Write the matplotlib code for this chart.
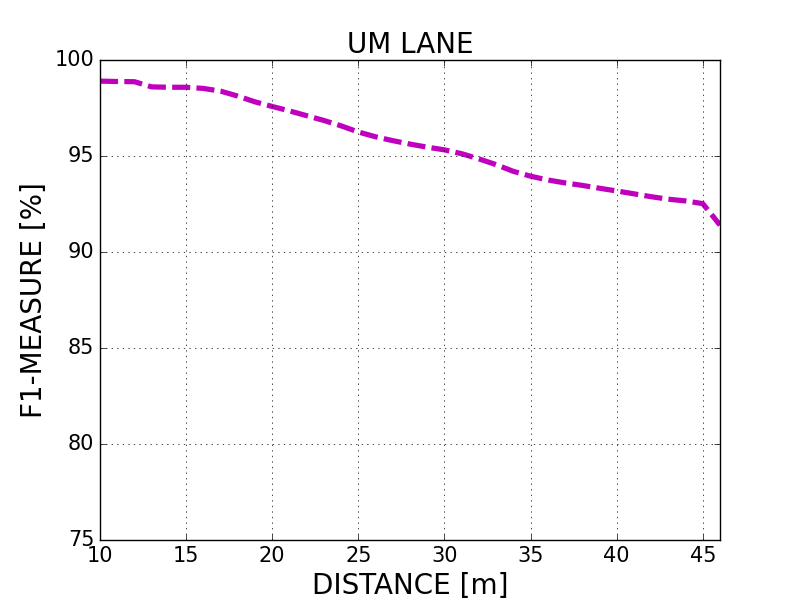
import matplotlib
matplotlib.use('Agg')
import matplotlib.pyplot as plt

# distance [m] vs F1 measure [%]
distance = [10, 11, 12, 13, 14, 15, 16, 17, 18, 19, 20, 21, 22, 23, 24, 25, 26, 27,
            28, 29, 30, 31, 32, 33, 34, 35, 36, 37, 38, 39, 40, 41, 42, 43, 44, 45, 46]
f1 = [98.9, 98.88, 98.87, 98.6, 98.58, 98.58, 98.52, 98.38, 98.12, 97.82, 97.58,
      97.35, 97.1, 96.85, 96.57, 96.25, 96.0, 95.8, 95.62, 95.46, 95.32, 95.12,
      94.85, 94.55, 94.2, 93.95, 93.75, 93.6, 93.47, 93.32, 93.18, 93.03, 92.88,
      92.75, 92.66, 92.52, 91.4]

plt.style.use('classic')
fig = plt.figure(figsize=(8, 6), dpi=100)
ax = fig.add_axes([0.125, 0.1, 0.775, 0.8])

line, = ax.plot(distance, f1, '--', color='m', linewidth=3.75)
line.set_dashes([13, 4.5])
ax.set_xlim(10, 46)
ax.set_ylim(75, 100)
ax.grid(True)
ax.set_title('UM LANE', fontsize=20)
ax.set_xlabel('DISTANCE [m]', fontsize=20)
ax.set_ylabel('F1-MEASURE [%]', fontsize=20)
ax.tick_params(labelsize=15)

fig.savefig('out.png', dpi=100)
